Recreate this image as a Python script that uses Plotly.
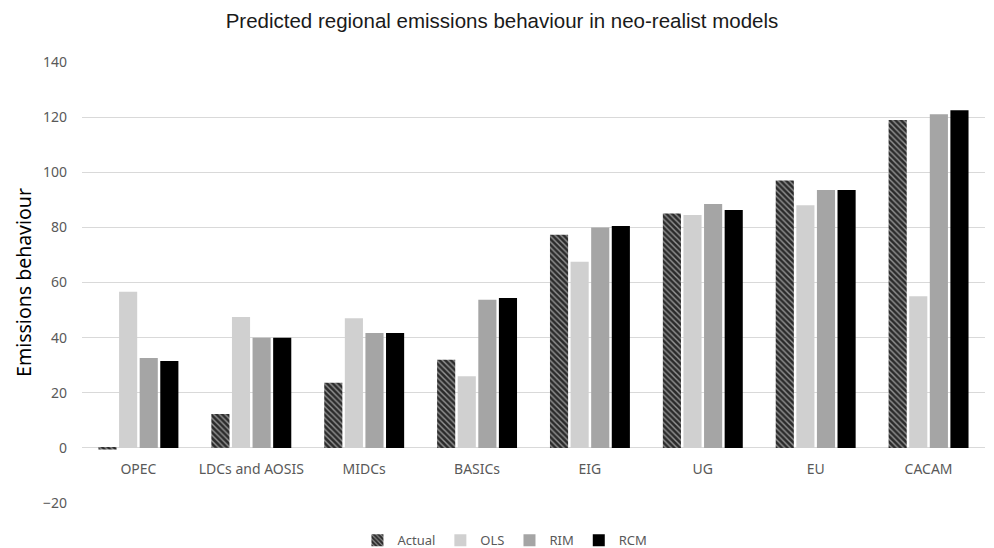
import plotly.graph_objects as go

categories = ["OPEC", "LDCs and AOSIS", "MIDCs", "BASICs", "EIG", "UG", "EU", "CACAM"]
actual = [-0.6, 12.3, 23.6, 32, 77.3, 85, 97, 119]
ols = [56.6, 47.5, 47, 26, 67.5, 84.5, 88, 55]
rim = [32.6, 40, 41.7, 53.7, 80, 88.5, 93.6, 121]
rcm = [31.5, 40, 41.7, 54.4, 80.5, 86.3, 93.6, 122.5]
y_ticks = [-20, 0, 20, 40, 60, 80, 100, 120, 140]

fig = go.Figure()
fig.add_trace(go.Bar(name="Actual", x=categories, y=actual,
                     marker=dict(color="#2b2b2b", line=dict(width=0),
                                 pattern=dict(shape="\\", fgcolor="#ffffff", bgcolor="#2b2b2b",
                                              size=4, solidity=0.35))))
fig.add_trace(go.Bar(name="OLS", x=categories, y=ols,
                     marker=dict(color="#d0d0d0", line=dict(width=0))))
fig.add_trace(go.Bar(name="RIM", x=categories, y=rim,
                     marker=dict(color="#a5a5a5", line=dict(width=0))))
fig.add_trace(go.Bar(name="RCM", x=categories, y=rcm,
                     marker=dict(color="#000000", line=dict(width=0))))

font = "Noto Sans, Liberation Sans, sans-serif"
fig.update_layout(
    width=994, height=548,
    margin=dict(l=82, r=9, t=62, b=45, autoexpand=False),
    paper_bgcolor="white", plot_bgcolor="white",
    barmode="group", bargap=0.27, bargroupgap=0.12,
    title=dict(text="Predicted regional emissions behaviour in neo-realist models",
               x=0.505, xanchor="center", y=0.962, yanchor="middle",
               font=dict(family="Liberation Sans, Arial, sans-serif", size=20.5, color="#1a1a1a")),
    font=dict(family=font, size=14, color="#595959"),
    xaxis=dict(anchor="free", position=0.125, showline=False, ticks="",
               showgrid=False, ticklabelstandoff=11,
               tickfont=dict(size=14, color="#595959")),
    yaxis=dict(range=[-20, 140], tickvals=y_ticks, showgrid=True, gridcolor="#d9d9d9",
               gridwidth=1, zeroline=True, zerolinecolor="#d9d9d9", zerolinewidth=1,
               ticks="", ticklabelstandoff=14,
               tickfont=dict(size=14, color="#595959"),
               title=dict(text="Emissions behaviour", standoff=6,
                          font=dict(family=font, size=19.5, color="#000000"))),
    legend=dict(orientation="h", xref="container", yref="container",
                x=0.508, xanchor="center", y=0.014, yanchor="middle",
                font=dict(size=13, color="#595959"), itemwidth=30,
                tracegroupgap=0),
)
fig.write_html("out.html")
